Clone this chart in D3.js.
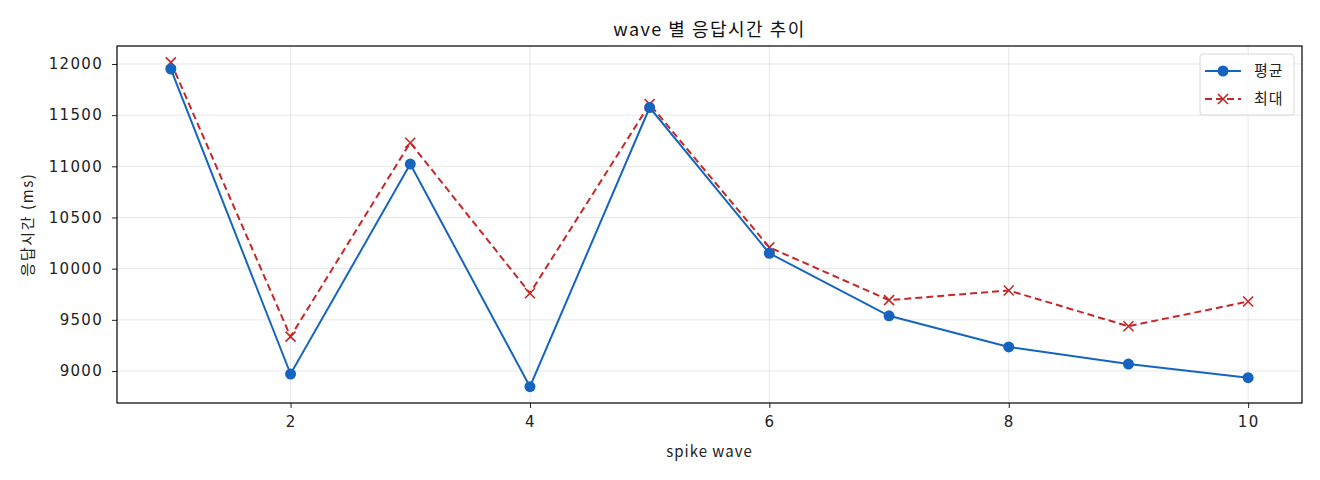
<!DOCTYPE html>
<html>
<head>
<meta charset="utf-8">
<script src="https://cdn.jsdelivr.net/npm/d3@7"></script>
<style>
  body { margin: 0; background: #fff; }
  svg { font-family: "Noto Sans CJK KR", "Noto Sans", sans-serif; }
</style>
</head>
<body>
<svg width="1320" height="480"></svg>
<script>
// values
var waves = [1, 2, 3, 4, 5, 6, 7, 8, 9, 10];
var avgMs = [11951, 8970, 11022, 8847, 11575, 10150, 9539, 9235, 9068, 8934];
var maxMs = [12016, 9336, 11231, 9760, 11608, 10208, 9692, 9787, 9437, 9679];
var xTicks = [2, 4, 6, 8, 10];
var yTicks = [9000, 9500, 10000, 10500, 11000, 11500, 12000];

var svg = d3.select('svg');
// plot box (note: "top" is reserved on window, so use other names)
var pLeft = 117, pRight = 1302, pTop = 46, pBottom = 403;

var x = d3.scaleLinear().domain([0.55, 10.45]).range([pLeft, pRight]);
var y = d3.scaleLinear().domain([8687, 12176]).range([pBottom, pTop]);

// grid
svg.append('g').selectAll('line').data(xTicks).enter().append('line')
    .attr('x1', d => x(d)).attr('x2', d => x(d))
    .attr('y1', pTop).attr('y2', pBottom)
    .attr('stroke', '#b0b0b0').attr('stroke-opacity', 0.3).attr('stroke-width', 1);
svg.append('g').selectAll('line').data(yTicks).enter().append('line')
    .attr('x1', pLeft).attr('x2', pRight)
    .attr('y1', d => y(d)).attr('y2', d => y(d))
    .attr('stroke', '#b0b0b0').attr('stroke-opacity', 0.3).attr('stroke-width', 1);

// axes
var xAxis = svg.append('g')
    .attr('transform', 'translate(0,' + pBottom + ')')
    .call(d3.axisBottom(x).tickValues(xTicks).tickSize(5).tickPadding(8).tickFormat(d3.format('d')));
var yAxis = svg.append('g')
    .attr('transform', 'translate(' + pLeft + ',0)')
    .call(d3.axisLeft(y).tickValues(yTicks).tickSize(5).tickPadding(9).tickFormat(d3.format('d')));
[xAxis, yAxis].forEach(function(a) {
    a.select('.domain').remove();
    a.selectAll('text').attr('font-size', '15px').attr('fill', '#222')
        .attr('letter-spacing', '1.3px')
        .attr('font-family', '"DejaVu Sans", sans-serif');
    a.selectAll('line').attr('stroke', '#222');
});

// frame
svg.append('rect')
    .attr('x', pLeft).attr('y', pTop)
    .attr('width', pRight - pLeft).attr('height', pBottom - pTop)
    .attr('fill', 'none').attr('stroke', '#000').attr('stroke-width', 1.2);

var line = d3.line().x((d, i) => x(waves[i])).y(d => y(d));
var blue = '#1565c0', red = '#c62828';

// max series (dashed, x markers)
svg.append('path').datum(maxMs)
    .attr('d', line).attr('fill', 'none')
    .attr('stroke', red).attr('stroke-width', 2).attr('stroke-dasharray', '7,4');
function cross(g, cx, cy, s) {
    g.append('path')
        .attr('d', 'M' + (cx - s) + ',' + (cy - s) + 'L' + (cx + s) + ',' + (cy + s) +
              'M' + (cx - s) + ',' + (cy + s) + 'L' + (cx + s) + ',' + (cy - s))
        .attr('stroke', red).attr('stroke-width', 1.6).attr('fill', 'none');
}
var crosses = svg.append('g');
maxMs.forEach(function(d, i) { cross(crosses, x(waves[i]), y(d), 5); });

// mean series (solid, circles)
svg.append('path').datum(avgMs)
    .attr('d', line).attr('fill', 'none')
    .attr('stroke', blue).attr('stroke-width', 2);
svg.append('g').selectAll('circle').data(avgMs).enter().append('circle')
    .attr('cx', (d, i) => x(waves[i])).attr('cy', d => y(d))
    .attr('r', 5.5).attr('fill', blue);

// legend
var lg = svg.append('g');
lg.append('rect').attr('x', 1200).attr('y', 54).attr('width', 94).attr('height', 61)
    .attr('rx', 3).attr('fill', '#fff').attr('fill-opacity', 0.8)
    .attr('stroke', '#d8d8d8').attr('stroke-width', 1);
lg.append('line').attr('x1', 1205).attr('x2', 1241).attr('y1', 71).attr('y2', 71)
    .attr('stroke', blue).attr('stroke-width', 2);
lg.append('circle').attr('cx', 1223).attr('cy', 71).attr('r', 5.5).attr('fill', blue);
lg.append('line').attr('x1', 1205).attr('x2', 1241).attr('y1', 99).attr('y2', 99)
    .attr('stroke', red).attr('stroke-width', 2).attr('stroke-dasharray', '7,4');
cross(lg, 1223, 99, 5);
lg.append('text').attr('x', 1254).attr('y', 71).attr('dy', '0.35em')
    .attr('font-size', '15px').attr('letter-spacing', '1px').attr('fill', '#222').text('평균');
lg.append('text').attr('x', 1254).attr('y', 99).attr('dy', '0.35em')
    .attr('font-size', '15px').attr('letter-spacing', '1px').attr('fill', '#222').text('최대');

// titles
svg.append('text').attr('x', (pLeft + pRight) / 2).attr('y', 36)
    .attr('text-anchor', 'middle').attr('font-size', '18px').attr('letter-spacing', '1.5px')
    .attr('fill', '#111')
    .text('wave 별 응답시간 추이');
svg.append('text').attr('x', (pLeft + pRight) / 2).attr('y', 457)
    .attr('text-anchor', 'middle').attr('font-size', '15px').attr('letter-spacing', '1px')
    .attr('fill', '#222')
    .text('spike wave');
svg.append('text')
    .attr('transform', 'translate(33,' + ((pTop + pBottom) / 2) + ') rotate(-90)')
    .attr('text-anchor', 'middle').attr('font-size', '15px').attr('letter-spacing', '1.6px')
    .attr('fill', '#222')
    .text('응답시간 (ms)');
</script>
</body>
</html>
